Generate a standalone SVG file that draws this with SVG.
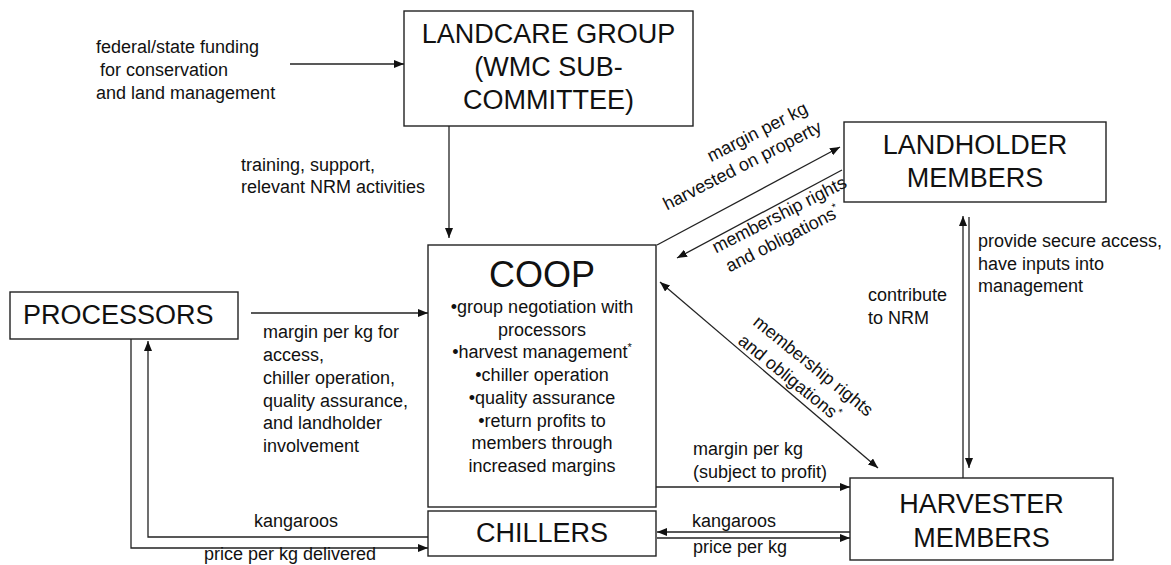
<svg xmlns="http://www.w3.org/2000/svg" width="1171" height="565" viewBox="0 0 1171 565">
<style>
.box{fill:#fff;stroke:#222;stroke-width:1.4}
.t{font-family:"Liberation Sans",Arial,sans-serif;fill:#111}
.title{font-size:27px;text-anchor:middle}
.lbl{font-size:18px}
.mid{text-anchor:middle}
.end{text-anchor:end}
.c{fill:none;stroke:#222;stroke-width:1.3}
.a{marker-end:url(#ah)}
.aa{marker-end:url(#ah);marker-start:url(#ah)}
</style>
<defs>
<marker id="ah" markerUnits="userSpaceOnUse" markerWidth="10" markerHeight="8" refX="10" refY="4" orient="auto-start-reverse">
<path d="M0,0 L10,4 L0,8 z" fill="#111"/>
</marker>
</defs>
<rect width="1171" height="565" fill="#fff"/>

<g id="landcare">
<rect class="box" x="404" y="11" width="289" height="115"/>
<text class="t title" x="548.5" y="43">LANDCARE GROUP</text>
<text class="t title" x="548.5" y="76">(WMC SUB-</text>
<text class="t title" x="548.5" y="109">COMMITTEE)</text>
</g>

<g id="landholder">
<rect class="box" x="844" y="122" width="262" height="80"/>
<text class="t title" x="975" y="154">LANDHOLDER</text>
<text class="t title" x="975" y="187">MEMBERS</text>
</g>

<g id="processors">
<rect class="box" x="10" y="292" width="228" height="47"/>
<text class="t" x="23" y="324" font-size="27">PROCESSORS</text>
</g>

<g id="coop">
<rect class="box" x="428" y="245" width="228" height="262"/>
<text class="t mid" x="542" y="287" font-size="36">COOP</text>
<g class="t lbl mid">
<text x="542" y="313">•group negotiation with</text>
<text x="542" y="336">processors</text>
<text x="542" y="358">•harvest management<tspan font-size="11" dy="-7">*</tspan></text>
<text x="542" y="381">•chiller operation</text>
<text x="542" y="404">•quality assurance</text>
<text x="542" y="427">•return profits to</text>
<text x="542" y="449">members through</text>
<text x="542" y="472">increased margins</text>
</g>
</g>

<g id="chillers">
<rect class="box" x="428" y="511" width="228" height="45"/>
<text class="t title" x="542" y="542">CHILLERS</text>
</g>

<g id="harvester">
<rect class="box" x="850" y="478" width="263" height="82"/>
<text class="t title" x="981.5" y="513">HARVESTER</text>
<text class="t title" x="981.5" y="547">MEMBERS</text>
</g>

<g id="connectors">
<path class="c a" d="M290,64 H404"/>
<path class="c a" d="M449,126 V238"/>
<path class="c a" d="M251,313 H428"/>
<path class="c a" d="M131,339 V548 H428"/>
<path class="c a" d="M428,537 H148 V341"/>
<path class="c a" d="M656,487 H850"/>
<path class="c a" d="M850,532 H657"/>
<path class="c a" d="M657,538 H850"/>
<path class="c a" d="M963,478 V216"/>
<path class="c a" d="M969,217 V468"/>
<path class="c a" d="M657,245 L840,147"/>
<path class="c a" d="M842,170 L677,258"/>
<path class="c aa" d="M660,282 L878,468"/>
</g>

<g id="labels" class="t lbl">
<text x="96" y="53">federal/state funding</text>
<text x="100" y="76">for conservation</text>
<text x="96" y="99">and land management</text>
<text x="241" y="171">training, support,</text>
<text x="241" y="193">relevant NRM activities</text>
<text x="263" y="338">margin per kg for</text>
<text x="263" y="361">access,</text>
<text x="263" y="384">chiller operation,</text>
<text x="263" y="407">quality assurance,</text>
<text x="263" y="429">and landholder</text>
<text x="263" y="452">involvement</text>
<text x="254" y="527">kangaroos</text>
<text x="204" y="560">price per kg delivered</text>
<text x="978" y="247">provide secure access,</text>
<text x="978" y="270">have inputs into</text>
<text x="978" y="292">management</text>
<text x="868" y="301">contribute</text>
<text x="868" y="324">to NRM</text>
<text x="693" y="455">margin per kg</text>
<text x="693" y="478">(subject to profit)</text>
<text x="692" y="527">kangaroos</text>
<text x="693" y="553">price per kg</text>
<g transform="translate(823,131) rotate(-27)" class="end">
<text x="-4" y="-23">margin per kg</text>
<text x="0" y="0">harvested on property</text>
</g>
<g transform="translate(782,220) rotate(-27)" class="mid">
<text x="0" y="0">membership rights</text>
<text x="-8" y="23">and obligations<tspan font-size="11" dy="-7">*</tspan></text>
</g>
<g transform="translate(752,324) rotate(39)">
<text x="0" y="0">membership rights</text>
<text x="0" y="24">and obligations<tspan font-size="11" dy="-7">*</tspan></text>
</g>
</g>
</svg>
